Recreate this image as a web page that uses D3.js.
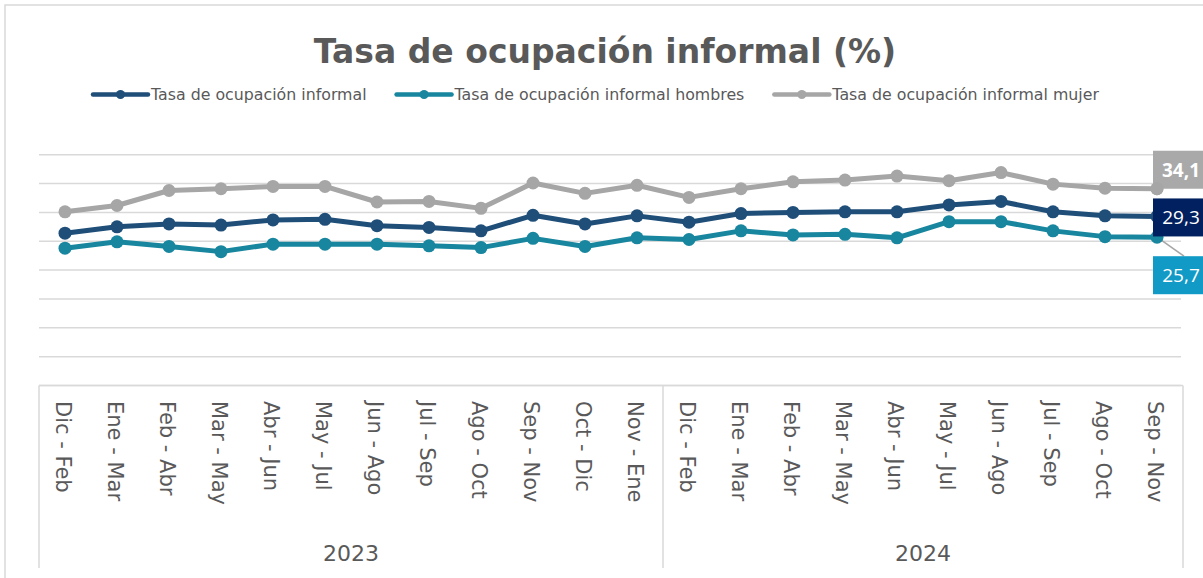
<!DOCTYPE html>
<html>
<head>
<meta charset="utf-8">
<script src="https://cdn.jsdelivr.net/npm/d3@7"></script>
<style>
  html, body { margin: 0; padding: 0; background: #fff; }
  svg { display: block; }
</style>
</head>
<body>
<div id="chart"></div>
<script>

var categories = ['Dic - Feb', 'Ene - Mar', 'Feb - Abr', 'Mar - May', 'Abr - Jun', 'May - Jul',
                  'Jun - Ago', 'Jul - Sep', 'Ago - Oct', 'Sep - Nov', 'Oct - Dic', 'Nov - Ene',
                  'Dic - Feb', 'Ene - Mar', 'Feb - Abr', 'Mar - May', 'Abr - Jun', 'May - Jul',
                  'Jun - Ago', 'Jul - Sep', 'Ago - Oct', 'Sep - Nov'];

var years = ['2023', '2024'];
var yearCounts = [12, 10];

var informal = [26.4, 27.5, 28.0, 27.8, 28.7, 28.8, 27.7, 27.4, 26.8, 29.5, 28.0, 29.4,
                28.3, 29.8, 30.0, 30.1, 30.1, 31.3, 31.9, 30.1, 29.4, 29.3];
var hombres  = [23.8, 24.9, 24.1, 23.2, 24.5, 24.5, 24.5, 24.2, 23.9, 25.5, 24.1, 25.6,
                25.3, 26.8, 26.1, 26.2, 25.6, 28.4, 28.4, 26.8, 25.8, 25.7];
var mujer    = [30.1, 31.2, 33.8, 34.1, 34.5, 34.5, 31.8, 31.9, 30.7, 35.1, 33.3, 34.7,
                32.6, 34.1, 35.3, 35.6, 36.3, 35.5, 36.9, 34.9, 34.2, 34.1];

var seriesNames = ['Tasa de ocupación informal', 'Tasa de ocupación informal hombres',
                   'Tasa de ocupación informal mujer'];

var yTicks = [0, 5, 10, 15, 20, 25, 30, 35, 40];

var width = 1203, height = 578;
var font = "'Century Gothic', 'DejaVu Sans', sans-serif";
var textCol = '#595959';
var gridCol = '#d9d9d9';

// order of drawing: mujer, hombres, informal (informal on top)
var series = [
  {name: seriesNames[2], values: mujer,    color: '#a6a6a6', box: '#a9a9a9', bold: true,  dy: -19, leader: false},
  {name: seriesNames[1], values: hombres,  color: '#17869e', box: '#119ac6', bold: false, dy: 38,  leader: true},
  {name: seriesNames[0], values: informal, color: '#1f4e79', box: '#002060', bold: false, dy: 1,   leader: false}
];
var legendOrder = [series[2], series[1], series[0]];

var svg = d3.select('#chart')
    .append('svg')
    .attr('width', width)
    .attr('height', height);

svg.append('rect')
    .attr('width', width)
    .attr('height', height)
    .attr('fill', '#fff');

svg.append('rect')
    .attr('x', 5)
    .attr('y', 5)
    .attr('width', width)
    .attr('height', height)
    .attr('fill', 'none')
    .attr('stroke', gridCol)
    .attr('stroke-width', 1.5);

var plotLeft = 39, plotRight = 1183, plotTop = 154.7, plotBottom = 385.5, axisBottom = 568;

var x = d3.scalePoint()
    .domain(d3.range(categories.length))
    .range([plotLeft, plotRight])
    .padding(0.5);

var y = d3.scaleLinear()
    .domain([0, 40])
    .range([plotBottom, plotTop]);

// title
svg.append('text')
    .attr('x', 605)
    .attr('y', 63)
    .attr('text-anchor', 'middle')
    .attr('font-family', font)
    .attr('font-weight', 'bold')
    .attr('font-size', 33)
    .attr('fill', textCol)
    .text('Tasa de ocupación informal (%)');

// legend
var legend = svg.append('g').attr('class', 'legend');
var lx = 93;
legendOrder.forEach(function(s) {
	var g = legend.append('g');
	g.append('line')
	    .attr('x1', lx).attr('x2', lx + 55)
	    .attr('y1', 94.5).attr('y2', 94.5)
	    .attr('stroke', s.color)
	    .attr('stroke-width', 4.5)
	    .attr('stroke-linecap', 'round');
	g.append('circle')
	    .attr('cx', lx + 27.5).attr('cy', 94.5)
	    .attr('r', 4.5)
	    .attr('fill', s.color);
	var t = g.append('text')
	    .attr('x', lx + 58)
	    .attr('y', 100)
	    .attr('font-family', font)
	    .attr('font-size', 15.8)
	    .attr('fill', textCol)
	    .text(s.name);
	lx = lx + 58 + t.node().getComputedTextLength() + 30;
});

// gridlines
svg.append('g')
    .selectAll('line')
    .data(yTicks)
    .join('line')
    .attr('x1', plotLeft)
    .attr('x2', plotRight - 2)
    .attr('y1', function(d) { return y(d); })
    .attr('y2', function(d) { return y(d); })
    .attr('stroke', gridCol)
    .attr('stroke-width', 1.5);

// category axis box
var axisG = svg.append('g');
axisG.append('line')
    .attr('x1', plotLeft).attr('x2', plotRight)
    .attr('y1', plotBottom).attr('y2', plotBottom)
    .attr('stroke', gridCol).attr('stroke-width', 1.5);

var bw = x.step();
var bounds = [plotLeft];
var acc = 0;
yearCounts.forEach(function(c) { acc += c; bounds.push(plotLeft + acc * bw); });

axisG.selectAll('.sep')
    .data(bounds)
    .join('line')
    .attr('class', 'sep')
    .attr('x1', function(d) { return d; })
    .attr('x2', function(d) { return d; })
    .attr('y1', plotBottom)
    .attr('y2', axisBottom)
    .attr('stroke', gridCol)
    .attr('stroke-width', 1.5);

axisG.selectAll('.cat')
    .data(categories)
    .join('text')
    .attr('class', 'cat')
    .attr('transform', function(d, i) { return 'translate(' + (x(i) - 2) + ',401) rotate(90)'; })
    .attr('dy', '0.33em')
    .attr('font-family', font)
    .attr('font-size', 21)
    .attr('fill', textCol)
    .text(function(d) { return d; });

axisG.selectAll('.year')
    .data(years)
    .join('text')
    .attr('class', 'year')
    .attr('x', function(d, i) { return (bounds[i] + bounds[i + 1]) / 2; })
    .attr('y', 561)
    .attr('text-anchor', 'middle')
    .attr('font-family', font)
    .attr('font-size', 22)
    .attr('fill', textCol)
    .text(function(d) { return d; });

// lines + markers
var line = d3.line()
    .x(function(d, i) { return x(i); })
    .y(function(d) { return y(d); });

var last = categories.length - 1;
var fmt = d3.formatLocale({decimal: ',', thousands: '.', grouping: [3], currency: ['', '']}).format('.1f');
var lastX = x(last);

// leader line for hombres label, under the marks
series.forEach(function(s) {
	if (!s.leader) return;
	svg.append('line')
	    .attr('x1', lastX).attr('y1', y(s.values[last]))
	    .attr('x2', lastX + 27).attr('y2', y(s.values[last]) + s.dy - 19)
	    .attr('stroke', '#a6a6a6')
	    .attr('stroke-width', 1.5);
});

series.forEach(function(s) {
	var g = svg.append('g');
	g.append('path')
	    .datum(s.values)
	    .attr('d', line)
	    .attr('fill', 'none')
	    .attr('stroke', s.color)
	    .attr('stroke-width', 5)
	    .attr('stroke-linejoin', 'round');
	g.selectAll('circle')
	    .data(s.values)
	    .join('circle')
	    .attr('cx', function(d, i) { return x(i); })
	    .attr('cy', function(d) { return y(d); })
	    .attr('r', 6.5)
	    .attr('fill', s.color);
});

// end labels
series.forEach(function(s) {
	var cy = y(s.values[last]) + s.dy;
	var g = svg.append('g');
	g.append('rect')
	    .attr('x', lastX - 4)
	    .attr('y', cy - 19)
	    .attr('width', 60)
	    .attr('height', 38)
	    .attr('fill', s.box);
	g.append('text')
	    .attr('x', lastX + 24)
	    .attr('y', cy)
	    .attr('dy', '0.36em')
	    .attr('text-anchor', 'middle')
	    .attr('font-family', "'Open Sans', sans-serif")
	    .attr('font-weight', s.bold ? 'bold' : 'normal')
	    .attr('font-size', 19)
	    .attr('fill', '#fff')
	    .text(fmt(s.values[last]));
});

// mujer marker sits on top of its label box
svg.append('circle')
    .attr('cx', lastX)
    .attr('cy', y(mujer[last]))
    .attr('r', 6.5)
    .attr('fill', '#a6a6a6');

</script>
</body>
</html>
